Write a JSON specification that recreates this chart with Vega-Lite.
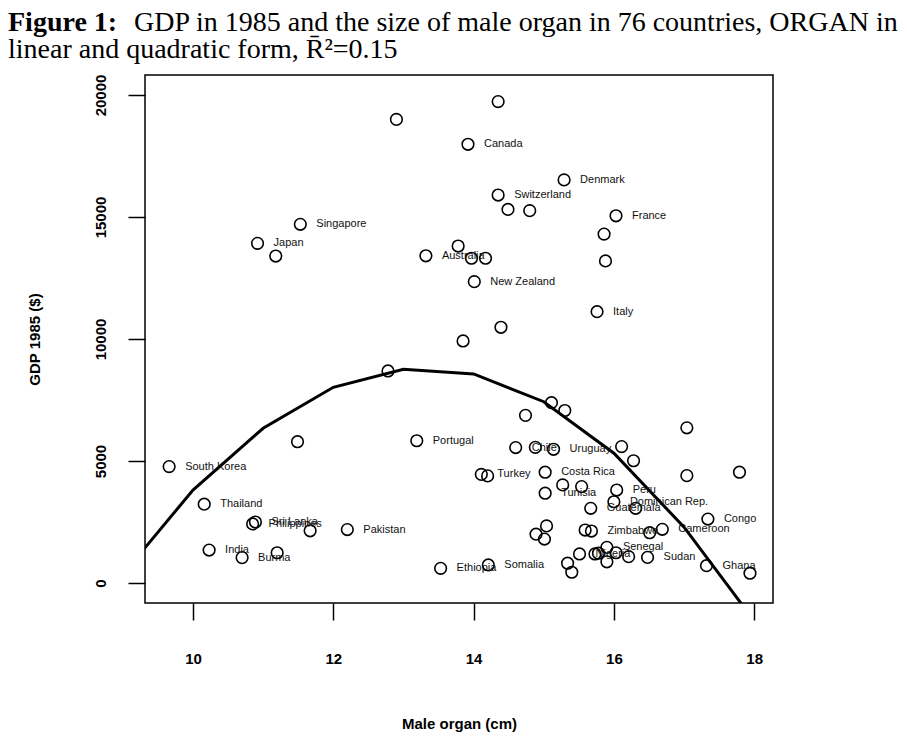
{
  "$schema": "https://vega.github.io/schema/vega-lite/v6.json",
  "width": 628,
  "height": 528,
  "autosize": {"type": "none"},
  "padding": {"left": 145, "top": 75, "right": 134, "bottom": 134},
  "background": "white",
  "title": {
    "text": "Figure 1:",
    "subtitle": [
      "\u200b\u00a0\u00a0\u00a0\u00a0\u00a0\u00a0\u00a0\u00a0\u00a0\u00a0\u00a0\u00a0\u00a0\u00a0\u00a0\u00a0\u00a0\u00a0GDP in 1985 and the size of male organ in 76 countries, ORGAN in",
      "linear and quadratic form, R\u0304\u00b2=0.15"
    ],
    "anchor": "start",
    "frame": "group",
    "dx": -137,
    "font": "Liberation Serif",
    "fontSize": 28,
    "fontWeight": "bold",
    "color": "black",
    "subtitleFont": "Liberation Serif",
    "subtitleFontSize": 28,
    "subtitleFontWeight": "normal",
    "subtitleColor": "black",
    "subtitlePadding": -28,
    "subtitleLineHeight": 27,
    "offset": 10
  },
  "config": {
    "view": {"stroke": "black", "strokeWidth": 1.5},
    "axis": {
      "grid": false,
      "domain": false,
      "tickColor": "black",
      "tickWidth": 1.5,
      "tickSize": 17,
      "labelFont": "Liberation Sans",
      "labelFontWeight": "bold",
      "labelFontSize": 15,
      "labelColor": "black",
      "titleFont": "Liberation Sans",
      "titleFontWeight": "bold",
      "titleFontSize": 15,
      "titleColor": "black"
    }
  },
  "datasets": {
    "points": [
      {"organ": 14.35, "gdp": 19730, "country": ""},
      {"organ": 12.90, "gdp": 19000, "country": ""},
      {"organ": 13.92, "gdp": 17980, "country": "Canada"},
      {"organ": 15.29, "gdp": 16520, "country": "Denmark"},
      {"organ": 14.35, "gdp": 15900, "country": "Switzerland"},
      {"organ": 14.49, "gdp": 15310, "country": ""},
      {"organ": 14.80, "gdp": 15260, "country": ""},
      {"organ": 16.03, "gdp": 15050, "country": "France"},
      {"organ": 11.53, "gdp": 14700, "country": "Singapore"},
      {"organ": 15.86, "gdp": 14300, "country": ""},
      {"organ": 10.92, "gdp": 13920, "country": "Japan"},
      {"organ": 13.78, "gdp": 13810, "country": ""},
      {"organ": 13.32, "gdp": 13410, "country": "Australia"},
      {"organ": 11.18, "gdp": 13400, "country": ""},
      {"organ": 13.97, "gdp": 13310, "country": ""},
      {"organ": 14.17, "gdp": 13310, "country": ""},
      {"organ": 15.88, "gdp": 13200, "country": ""},
      {"organ": 14.01, "gdp": 12350, "country": "New Zealand"},
      {"organ": 15.76, "gdp": 11120, "country": "Italy"},
      {"organ": 14.39, "gdp": 10480, "country": ""},
      {"organ": 13.85, "gdp": 9920, "country": ""},
      {"organ": 12.78, "gdp": 8690, "country": ""},
      {"organ": 15.11, "gdp": 7390, "country": ""},
      {"organ": 15.30, "gdp": 7070, "country": ""},
      {"organ": 14.74, "gdp": 6870, "country": ""},
      {"organ": 17.04, "gdp": 6360, "country": ""},
      {"organ": 11.49, "gdp": 5790, "country": ""},
      {"organ": 13.19, "gdp": 5830, "country": "Portugal"},
      {"organ": 14.60, "gdp": 5550, "country": "Chile"},
      {"organ": 14.88, "gdp": 5560, "country": ""},
      {"organ": 15.14, "gdp": 5480, "country": "Uruguay"},
      {"organ": 16.11, "gdp": 5590, "country": ""},
      {"organ": 16.28, "gdp": 5010, "country": ""},
      {"organ": 9.66, "gdp": 4770, "country": "South Korea"},
      {"organ": 14.11, "gdp": 4450, "country": "Turkey"},
      {"organ": 14.20, "gdp": 4390, "country": ""},
      {"organ": 15.02, "gdp": 4540, "country": "Costa Rica"},
      {"organ": 17.04, "gdp": 4400, "country": ""},
      {"organ": 17.79, "gdp": 4540, "country": ""},
      {"organ": 15.27, "gdp": 4020, "country": ""},
      {"organ": 15.54, "gdp": 3950, "country": ""},
      {"organ": 15.02, "gdp": 3680, "country": "Tunisia"},
      {"organ": 16.04, "gdp": 3810, "country": "Peru"},
      {"organ": 16.00, "gdp": 3330, "country": "Dominican Rep."},
      {"organ": 10.16, "gdp": 3230, "country": "Thailand"},
      {"organ": 15.67, "gdp": 3060, "country": "Guatemala"},
      {"organ": 16.31, "gdp": 3060, "country": ""},
      {"organ": 17.34, "gdp": 2620, "country": "Congo"},
      {"organ": 10.89, "gdp": 2500, "country": "Sri Lanka"},
      {"organ": 10.85, "gdp": 2420, "country": "Philippines"},
      {"organ": 11.67, "gdp": 2140, "country": ""},
      {"organ": 12.20, "gdp": 2190, "country": "Pakistan"},
      {"organ": 15.04, "gdp": 2340, "country": ""},
      {"organ": 16.69, "gdp": 2200, "country": "Cameroon"},
      {"organ": 15.68, "gdp": 2130, "country": "Zimbabwe"},
      {"organ": 15.59, "gdp": 2170, "country": ""},
      {"organ": 16.51, "gdp": 2060, "country": ""},
      {"organ": 14.89, "gdp": 2000, "country": ""},
      {"organ": 15.01, "gdp": 1800, "country": ""},
      {"organ": 15.90, "gdp": 1460, "country": "Senegal"},
      {"organ": 10.23, "gdp": 1350, "country": "India"},
      {"organ": 11.20, "gdp": 1240, "country": ""},
      {"organ": 10.70, "gdp": 1040, "country": "Burma"},
      {"organ": 15.51, "gdp": 1190, "country": "Nigeria"},
      {"organ": 15.73, "gdp": 1190, "country": ""},
      {"organ": 15.78, "gdp": 1220, "country": ""},
      {"organ": 16.03, "gdp": 1240, "country": ""},
      {"organ": 16.21, "gdp": 1080, "country": ""},
      {"organ": 16.48, "gdp": 1050, "country": "Sudan"},
      {"organ": 15.90, "gdp": 870, "country": ""},
      {"organ": 15.34, "gdp": 810, "country": ""},
      {"organ": 14.21, "gdp": 740, "country": "Somalia"},
      {"organ": 17.32, "gdp": 710, "country": "Ghana"},
      {"organ": 13.53, "gdp": 600, "country": "Ethiopia"},
      {"organ": 15.40, "gdp": 440, "country": ""},
      {"organ": 17.94, "gdp": 400, "country": ""}
    ],
    "fit": [
      {"organ": 9, "gdp": 350},
      {"organ": 10, "gdp": 3810},
      {"organ": 11, "gdp": 6340},
      {"organ": 12, "gdp": 8020},
      {"organ": 13, "gdp": 8760},
      {"organ": 14, "gdp": 8570},
      {"organ": 15, "gdp": 7430},
      {"organ": 16, "gdp": 5320},
      {"organ": 17, "gdp": 2290},
      {"organ": 18, "gdp": -1550}
    ]
  },
  "encoding": {
    "x": {
      "field": "organ", "type": "quantitative",
      "scale": {"domain": [9.316, 18.268], "nice": false, "zero": false},
      "axis": {"values": [10, 12, 14, 16, 18], "title": "Male organ (cm)", "labelPadding": 31, "titlePadding": 50}
    },
    "y": {
      "field": "gdp", "type": "quantitative",
      "scale": {"domain": [-820, 20820], "nice": false, "zero": false},
      "axis": {"values": [0, 5000, 10000, 15000, 20000], "format": "d", "title": "GDP 1985 ($)",
        "labelAngle": 270, "labelAlign": "center", "labelBaseline": "bottom", "labelPadding": 20, "titlePadding": 51}
    }
  },
  "layer": [
    {
      "data": {"name": "fit"},
      "mark": {"type": "line", "color": "black", "strokeWidth": 3, "clip": true}
    },
    {
      "data": {"name": "points"},
      "mark": {"type": "point", "shape": "circle", "filled": false, "color": "black", "strokeWidth": 1.6, "size": 135, "opacity": 1}
    },
    {
      "data": {"name": "points"},
      "mark": {"type": "text", "align": "left", "baseline": "middle", "dx": 16, "font": "Liberation Sans", "fontSize": 11, "color": "#111"},
      "encoding": {"text": {"field": "country"}}
    }
  ]
}
